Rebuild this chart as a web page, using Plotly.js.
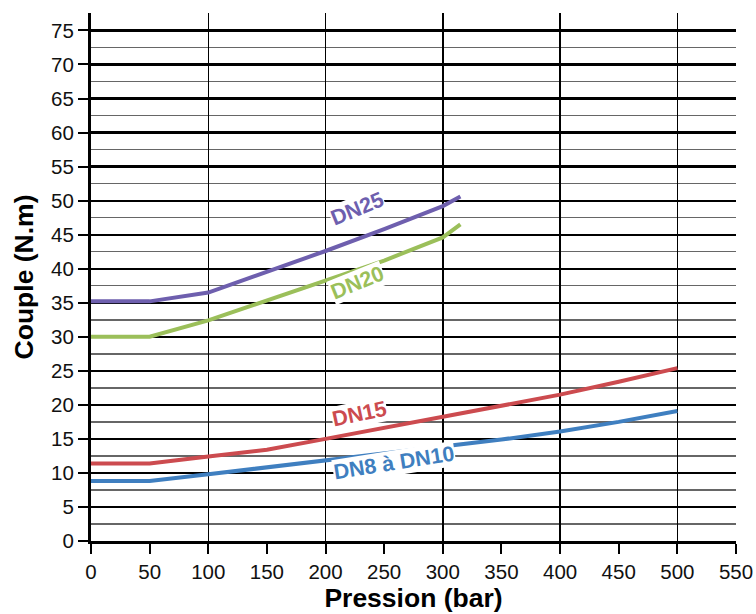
<!DOCTYPE html>
<html><head><meta charset="utf-8">
<script src="https://cdn.plot.ly/plotly-3.0.1.min.js"></script>
<style>body{margin:0;background:#fff}#c{width:756px;height:614px}</style>
</head><body><div id="c"></div>
<script>
const pressionA = [0, 50, 100, 150, 200, 250, 300, 350, 400, 450, 500];
const pressionB = [0, 50, 100, 150, 200, 250, 300, 315];
const dn8_10 = [8.8, 8.8, 9.8, 10.8, 11.8, 12.9, 13.9, 14.9, 16.1, 17.5, 19.1];
const dn15 = [11.4, 11.4, 12.4, 13.4, 15.0, 16.6, 18.2, 19.8, 21.5, 23.4, 25.4];
const dn20 = [30, 30, 32.4, 35.3, 38.2, 41.2, 44.6, 46.5];
const dn25 = [35.2, 35.2, 36.5, 39.5, 42.6, 45.8, 49.2, 50.6];
const names = ['DN8 à DN10', 'DN15', 'DN20', 'DN25'];
const colors = ['#3f7fc0', '#cc4b4f', '#9bbf5a', '#6e5fae'];

const traces = [
  {x: pressionA, y: dn8_10, name: names[0], color: colors[0]},
  {x: pressionA, y: dn15, name: names[1], color: colors[1]},
  {x: pressionB, y: dn20, name: names[2], color: colors[2]},
  {x: pressionB, y: dn25, name: names[3], color: colors[3]}
].map(t => ({x: t.x, y: t.y, name: t.name, type: 'scatter', mode: 'lines',
  line: {color: t.color, width: 4}, hoverinfo: 'skip'}));

traces.unshift({x: [0, 550], y: [0, 0], xaxis: 'x2', mode: 'none', showlegend: false, hoverinfo: 'skip'});

const fam = '"Liberation Sans", Arial, sans-serif';
const annotations = [
  {x: 227, y: 48.7, text: names[3], textangle: -22, col: colors[3]},
  {x: 227, y: 37.9, text: names[2], textangle: -22, col: colors[2]},
  {x: 229, y: 18.6, text: names[1], textangle: -12, col: colors[1]},
  {x: 258, y: 11.5, text: names[0], textangle: -9, col: colors[0]}
].map(a => ({x: a.x, y: a.y, xref: 'x', yref: 'y', text: '<b>' + a.text + '</b>',
  textangle: a.textangle, showarrow: false, bgcolor: '#ffffff', borderpad: 0,
  font: {family: fam, size: 21.5, color: a.col}}));

const layout = {
  width: 756, height: 614,
  margin: {l: 91, r: 20, t: 13, b: 73},
  paper_bgcolor: '#fff', plot_bgcolor: '#fff',
  showlegend: false,
  font: {family: fam, size: 20, color: '#111'},
  xaxis: {range: [0, 550], dtick: 50, tick0: 0, showgrid: false, zeroline: false,
    showline: true, linecolor: '#000', linewidth: 3,
    ticks: 'outside', ticklen: 10, tickwidth: 2, tickcolor: '#000',
    tickfont: {family: fam, size: 20.5, color: '#111'},
    title: {text: '<b>Pression (bar)</b>', font: {family: fam, size: 26.5, color: '#000'}, standoff: 4}},
  xaxis2: {overlaying: 'x', matches: 'x', range: [0, 550], dtick: 100, tick0: 0,
    showgrid: true, gridcolor: '#000', gridwidth: 1.5, showticklabels: false,
    ticks: '', zeroline: false, showline: false, layer: 'below traces'},
  yaxis: {range: [0, 77.56], dtick: 5, tick0: 0, showgrid: true, gridcolor: '#000', gridwidth: 2.2,
    zeroline: false, showline: true, linecolor: '#000', linewidth: 3,
    ticks: 'outside', ticklen: 10, tickwidth: 2, tickcolor: '#000',
    tickfont: {family: fam, size: 20.5, color: '#111'},
    minor: {dtick: 2.5, showgrid: true, gridcolor: '#666', gridwidth: 1.5, ticks: ''},
    title: {text: '<b>Couple (N.m)</b>', font: {family: fam, size: 26.5, color: '#000'}, standoff: 10}},
  annotations: annotations
};
Plotly.newPlot('c', traces, layout, {staticPlot: true});
</script></body></html>
